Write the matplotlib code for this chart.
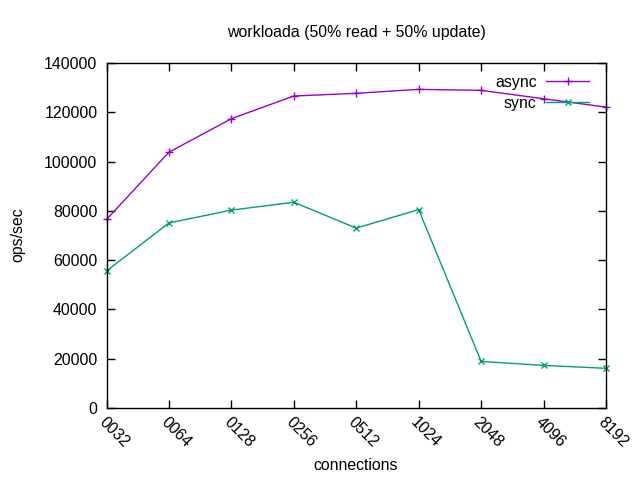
import matplotlib
matplotlib.use("Agg")
import matplotlib.pyplot as plt

categories = ["0032", "0064", "0128", "0256", "0512", "1024", "2048", "4096", "8192"]
async_vals = [76500, 103800, 117400, 126600, 127700, 129300, 128900, 125500, 122100]
sync_vals = [55600, 75100, 80300, 83500, 73000, 80500, 18900, 17300, 16100]
yticks = [0, 20000, 40000, 60000, 80000, 100000, 120000, 140000]

plt.rcParams['font.family'] = ['Liberation Sans', 'DejaVu Sans']
plt.rcParams['font.size'] = 11.4

fig = plt.figure(figsize=(6.4, 4.8), dpi=100)
ax = fig.add_axes([106.5/640, 72/480, (606-106.5)/640, (408-63)/480])

x = list(range(len(categories)))
ax.plot(x, async_vals, color='#9400D3', marker='+', markersize=6, mew=1, lw=1, label='async', clip_on=False)
ax.plot(x, sync_vals, color='#009E73', marker='x', markersize=5, mew=1, lw=1, label='sync', clip_on=False)

ax.set_xlim(0, len(categories) - 1)
ax.set_ylim(0, 140000)
ax.set_yticks(yticks)
ax.set_yticklabels([str(v) for v in yticks])
ax.set_xticks(x)
ax.set_xticklabels(categories, rotation=-45, ha='left', va='top', rotation_mode='anchor')
ax.tick_params(direction='in', length=6, top=True, right=True, width=1)
ax.tick_params(axis='x', pad=5)
ax.tick_params(axis='y', pad=6.5)
for s in ax.spines.values():
    s.set_linewidth(1)

ax.set_xlabel('connections')
ax.set_ylabel('ops/sec')
ax.xaxis.set_label_coords(356/640, 1 - 466/480, transform=fig.transFigure)
ax.yaxis.set_label_coords(18/640, 1 - 235/480, transform=fig.transFigure)
ax.xaxis.label.set_va('center')
ax.yaxis.label.set_va('center')
fig.text(356/640, 1 - 33/480, 'workloada (50% read + 50% update)', ha='center', va='center')

ax.legend(loc='upper right', bbox_to_anchor=(589/640, 1 - 75/480), bbox_transform=fig.transFigure,
          frameon=False, markerfirst=False, handlelength=2.7, labelspacing=0.38,
          borderpad=0, borderaxespad=0, handletextpad=0.6)

fig.savefig('out.png', dpi=100)
